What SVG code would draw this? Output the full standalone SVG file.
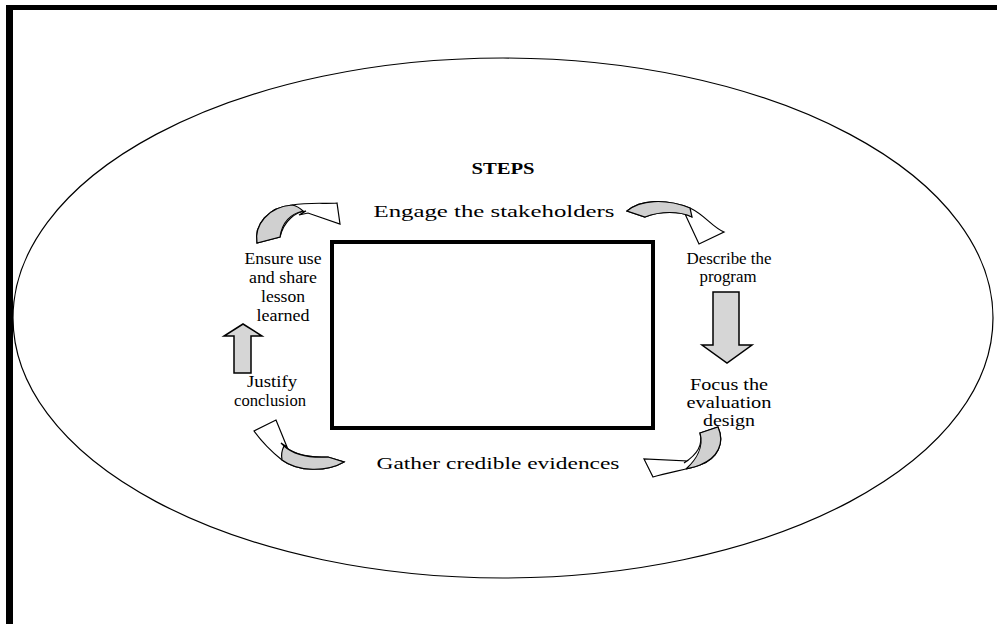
<svg xmlns="http://www.w3.org/2000/svg" width="997" height="624" viewBox="0 0 997 624">
<style>
text{font-family:"Liberation Serif","Times New Roman",serif;font-size:17px;fill:#000;text-anchor:middle}
.s{font-size:16px}
.b{font-weight:bold;font-size:16px}
.arr{fill:#fff;stroke:#000;stroke-width:1.2;stroke-linejoin:miter}
.tail{fill:#d0d0d0;stroke:#000;stroke-width:1.2}
.blk{fill:#d6d6d6;stroke:#000;stroke-width:1.5}
</style>
<rect width="997" height="624" fill="#fff"/>
<g id="frame">
<line x1="6" y1="7.5" x2="997" y2="7.5" stroke="#000" stroke-width="5"/>
<line x1="9.5" y1="5" x2="9.5" y2="624" stroke="#000" stroke-width="7"/>
</g>
<g id="ellipse"><ellipse cx="503" cy="318" rx="490" ry="260" fill="none" stroke="#000" stroke-width="1.2"/></g>
<g id="center-box"><rect x="332" y="242" width="321" height="186" fill="none" stroke="#000" stroke-width="4"/></g>
<g id="title"><text class="b" x="503" y="174" textLength="63" lengthAdjust="spacingAndGlyphs">STEPS</text></g>
<g id="n-engage"><text x="494" y="217" textLength="241" lengthAdjust="spacingAndGlyphs">Engage the stakeholders</text></g>
<g id="n-describe"><text class="s" x="729" y="264" textLength="85" lengthAdjust="spacingAndGlyphs">Describe the</text><text class="s" x="728" y="282" textLength="57" lengthAdjust="spacingAndGlyphs">program</text></g>
<g id="n-focus"><text class="s" x="729" y="390" textLength="78" lengthAdjust="spacingAndGlyphs">Focus the</text><text class="s" x="729" y="408" textLength="85" lengthAdjust="spacingAndGlyphs">evaluation</text><text class="s" x="729" y="426" textLength="52" lengthAdjust="spacingAndGlyphs">design</text></g>
<g id="n-gather"><text x="498" y="469" textLength="243" lengthAdjust="spacingAndGlyphs">Gather credible evidences</text></g>
<g id="n-justify"><text class="s" x="272" y="387" textLength="50" lengthAdjust="spacingAndGlyphs">Justify</text><text class="s" x="270" y="406" textLength="72" lengthAdjust="spacingAndGlyphs">conclusion</text></g>
<g id="n-ensure"><text class="s" x="283" y="264" textLength="77" lengthAdjust="spacingAndGlyphs">Ensure use</text><text class="s" x="283" y="283" textLength="68" lengthAdjust="spacingAndGlyphs">and share</text><text class="s" x="283" y="302" textLength="44" lengthAdjust="spacingAndGlyphs">lesson</text><text class="s" x="283" y="321" textLength="53" lengthAdjust="spacingAndGlyphs">learned</text></g>
<g id="connectors">
<path class="arr" d="M257,243 C254,225 268,207 292,205 C310,202 325,204 337,203 L340,224 L308,213 L299,215 L306,211 C296,212 284,220 280,237 Z"/>
<path class="tail" d="M257,243 C254,225 268,207 292,205 C297,206 301,209 303,211 C290,214 282,223 280,237 Z"/>
<path class="arr" d="M627,211 C640,200 665,198 690,208 C705,215 712,227 724,232 L699,244 L685,214 L692,217 C680,211 660,211 645,217 Z"/>
<path class="tail" d="M627,211 C640,200 665,198 690,208 L692,217 C680,211 660,211 645,217 Z"/>
<path class="arr" d="M700,433 L718,427 C725,443 718,458 700,465 C690,469 670,472 653,477 L644,459 L687,461 L684,463 C695,456 704,447 700,433 Z"/>
<path class="tail" d="M700,433 L718,427 C725,443 718,458 700,465 C695,467 690,468 686,469 C696,460 704,447 700,433 Z"/>
<path class="arr" d="M254,431 L276,420 L287,447 L281,443 C292,455 310,458 328,457 L344,462 C327,472 298,472 282,460 C272,452 262,442 254,431 Z"/>
<path class="tail" d="M284,446 C294,455 310,458 328,457 L344,462 C327,472 298,472 282,460 C281,455 282,450 284,446 Z"/>
<path class="blk" d="M713,292 L739,292 L739,345 L752,345 L727,363 L702,345 L713,345 Z"/>
<path class="blk" d="M234,373 L234,336 L224,336 L243,324 L262,336 L251,336 L251,373 Z"/>
</g>
</svg>
